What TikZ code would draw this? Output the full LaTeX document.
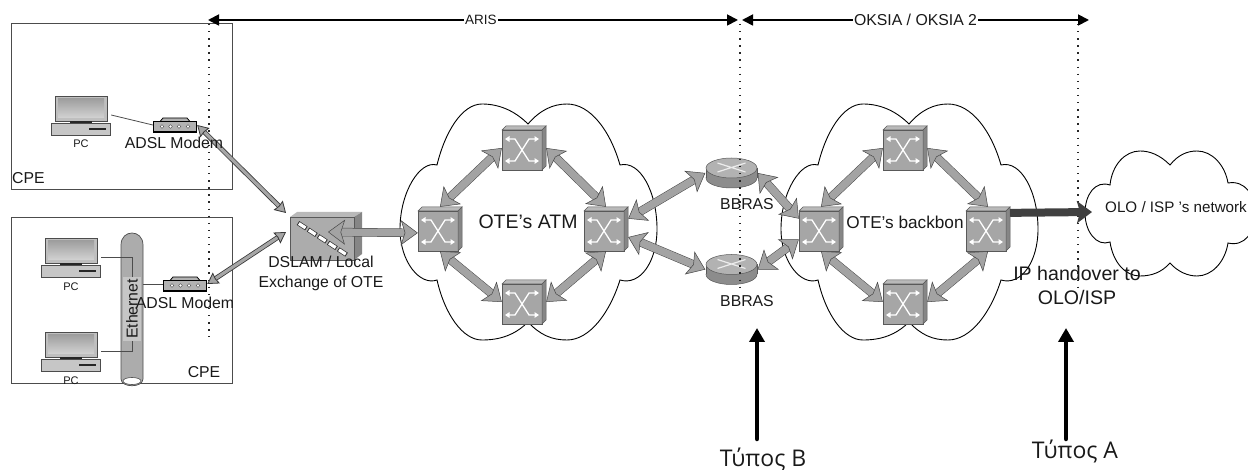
\documentclass[tikz,border=0pt]{standalone}
\usepackage{fontspec}
\setmainfont{Liberation Sans}
\newfontfamily\typefont{Open Sans}
\usetikzlibrary{arrows.meta, positioning, calc}

% Styles
\tikzstyle{cloudline} = [black, line width=0.9pt]
\tikzstyle{cpebox} = [rectangle, draw=gray!60!black, line width=0.9pt, inner sep=0pt]
\tikzstyle{switchbox} = [rectangle, minimum width=44pt, minimum height=44pt, inner sep=0pt]
\tikzstyle{routerbox} = [rectangle, minimum width=52pt, minimum height=31pt, inner sep=0pt]
\tikzstyle{pcbox} = [rectangle, minimum width=60pt, minimum height=40pt, inner sep=0pt]
\tikzstyle{modembox} = [rectangle, minimum width=44pt, minimum height=15pt, inner sep=0pt]
\tikzstyle{label} = [text=black!90, inner sep=0pt, align=center, font=\fontsize{15.8}{20}\selectfont]
\tikzstyle{smalllabel} = [text=black!90, inner sep=0pt, font=\fontsize{11}{13}\selectfont]
\tikzstyle{ringarrow} = [draw=gray!55!black, double=gray!72, line width=0.5pt, double distance=7.5pt, {Stealth[length=17pt,width=25pt,inset=4pt,line width=0.5pt,color=gray!55!black,fill=gray!72]}-{Stealth[length=17pt,width=25pt,inset=4pt,line width=0.5pt,color=gray!55!black,fill=gray!72]}]
\tikzstyle{accessarrow} = [draw=gray!45!black, double=gray!70, line width=0.8pt, double distance=3.2pt, {Stealth[length=11pt,width=13pt,inset=1pt,color=gray!45!black,fill=gray!70]}-{Stealth[length=11pt,width=13pt,inset=1pt,color=gray!45!black,fill=gray!70]}]
\tikzstyle{toparrow} = [black, line width=1.8pt, {Stealth[length=11pt,width=11pt,inset=0pt]}-{Stealth[length=11pt,width=11pt,inset=0pt]}]
\tikzstyle{typearrow} = [black, line width=4.5pt, line cap=round, -{Stealth[length=14pt,width=15pt,inset=0pt]}]
\tikzstyle{dotline} = [black!85, line width=1.4pt, dash pattern=on 1.4pt off 5.7pt]
\tikzstyle{thinline} = [black!70, line width=0.8pt]
\tikzstyle{crossline} = [white, line width=1.3pt, >={Stealth[length=4.5pt,width=5.5pt,inset=0pt]}, <->]

% Double lobed cloud, shifted along x
\newcommand{\bigcloud}[1]{%
  \draw[cloudline, xshift=#1pt] (528,124)
    .. controls (514,110) and (498,104) .. (482,104)
    .. controls (462,104) and (445,132) .. (437,165)
    .. controls (420,160) and (400,192) .. (400,229)
    .. controls (400,262) and (420,286) .. (437,280)
    .. controls (445,315) and (463,340) .. (482,340)
    .. controls (500,340) and (515,335) .. (528,322)
    .. controls (540,335) and (552,340) .. (567,340)
    .. controls (590,340) and (610,312) .. (620,280)
    .. controls (640,286) and (657,262) .. (657,229)
    .. controls (657,192) and (640,160) .. (620,165)
    .. controls (610,130) and (590,104) .. (567,104)
    .. controls (553,104) and (540,110) .. (528,124) -- cycle;
}

% Switch with its three faces and the white cross
\newcommand{\switchnode}[2]{%
  \node (#1) [switchbox] at (#2) {};
  \begin{scope}[shift={(#2)}]
    \filldraw[fill=gray!70, draw=gray!70!black, line width=0.5pt] (-22,-18) rectangle (18,22);
    \filldraw[fill=gray!55, draw=gray!70!black, line width=0.5pt] (-22,-18) -- (-18,-22) -- (22,-22) -- (18,-18) -- cycle;
    \filldraw[fill=gray!95, draw=gray!70!black, line width=0.5pt] (18,-18) -- (22,-22) -- (22,18) -- (18,22) -- cycle;
    \draw[crossline] (-19,-9) -- (-9,-9) -- (5,13) -- (15,13);
    \draw[crossline] (15,-9) -- (5,-9) -- (-9,13) -- (-19,13);
  \end{scope}
}

% Router as a flat cylinder
\newcommand{\routernode}[2]{%
  \node (#1) [routerbox] at (#2) {};
  \begin{scope}[shift={(#2)}]
    \filldraw[fill=gray!90, draw=gray!70!black, line width=0.5pt] (0,5) ellipse [x radius=25.5, y radius=10];
    \fill[gray!90] (-25.5,-5) rectangle (25.5,5);
    \draw[gray!70!black, line width=0.5pt] (-25.5,-5) -- (-25.5,5) (25.5,-5) -- (25.5,5);
    \filldraw[fill=gray!60, draw=gray!70!black, line width=0.5pt] (0,-5) ellipse [x radius=25.5, y radius=10];
    \draw[white!85!gray, line width=1.2pt] (-14,-10) -- (14,-1) (14,-10) -- (-14,-1);
  \end{scope}
}

% PC with monitor, stand and base
\newcommand{\pcnode}[2]{%
  \node (#1) [pcbox] at (#2) {};
  \begin{scope}[shift={(#2)}]
    \filldraw[fill=gray!50, draw=gray!60!black, line width=0.9pt] (-26,-19) rectangle (26,6);
    \shade[top color=gray!75, bottom color=gray!35] (-23,-16) rectangle (23,3);
    \fill[black!85] (-11,6) rectangle (11,8.5);
    \filldraw[fill=gray!45, draw=gray!60!black, line width=0.9pt] (-29.5,8.5) rectangle (29.5,20);
    \fill[black!85] (8,13) rectangle (25,15);
  \end{scope}
}

% ADSL modem
\newcommand{\modemnode}[2]{%
  \node (#1) [modembox] at (#2) {};
  \begin{scope}[shift={(#2)}]
    \filldraw[fill=gray!60, draw=black, line width=0.8pt] (-15,-3.5) -- (-12,-7) -- (12,-7) -- (15,-3.5) -- cycle;
    \filldraw[fill=gray!60, draw=black, line width=1.4pt] (-21.5,-3.5) rectangle (21.5,7);
    \foreach \px in {-13,-4.5,4,13} \filldraw[fill=white, draw=gray!50!black, line width=0.4pt] (\px,1.5) circle (1.8);
  \end{scope}
}

\begin{document}
\begin{tikzpicture}[x=1pt, y=-1pt, >=stealth]
\useasboundingbox (0,0) rectangle (1248,470);

% --- Clouds ---
\bigcloud{0}
\bigcloud{381}
\draw[cloudline] (1170,165)
  .. controls (1160,155) and (1150,151) .. (1140,151)
  .. controls (1125,151) and (1112,165) .. (1110,185)
  .. controls (1095,180) and (1085,195) .. (1085,213)
  .. controls (1085,232) and (1097,247) .. (1110,242)
  .. controls (1113,262) and (1125,276) .. (1140,276)
  .. controls (1152,276) and (1162,272) .. (1170,263)
  .. controls (1178,272) and (1188,276) .. (1197,276)
  .. controls (1212,276) and (1225,262) .. (1228,243)
  .. controls (1245,247) and (1255,232) .. (1255,213)
  .. controls (1255,195) and (1245,180) .. (1228,183)
  .. controls (1225,165) and (1212,151) .. (1197,151)
  .. controls (1187,151) and (1178,155) .. (1170,165) -- cycle;

% --- CPE boxes ---
\node (cpetop) [cpebox, minimum width=221pt, minimum height=166pt] at (121.5,106) {};
\node (cpebottom) [cpebox, minimum width=221pt, minimum height=166pt] at (121.5,300) {};
\node (cpetoplabel) [label, anchor=west] at (12,178) {CPE};
\node (cpebottomlabel) [label] at (204,372) {CPE};

% --- Ethernet bus ---
\node (ethernet) [inner sep=0pt, minimum width=22pt, minimum height=151pt] at (132,308) {};
\filldraw[fill=gray!65, draw=gray!60!black, line width=0.7pt] (121,379) -- (121,245) .. controls (121,229) and (143,229) .. (143,245) -- (143,379) .. controls (143,388) and (121,388) .. (121,379) -- cycle;
\filldraw[fill=white, draw=gray!60!black, line width=0.6pt] (132,381) ellipse [x radius=9, y radius=3.5];

% --- PCs and modems ---
\pcnode{pctop}{81,115}
\pcnode{pcupper}{71,257}
\pcnode{pclower}{71,351}
\modemnode{modemtop}{175,125}
\modemnode{modembottom}{185,284}
\node (pctoplabel) [smalllabel] at (81,144) {PC};
\node (pcupperlabel) [smalllabel] at (71,287) {PC};
\node (pclowerlabel) [smalllabel] at (71,381) {PC};

\draw[thinline] (pctop.east) -- (modemtop.west);
\draw[thinline] (pcupper.east) -| (ethernet.center);
\draw[thinline] (pclower.east) -| (ethernet.center);
\draw[thinline] (ethernet.east |- modembottom.west) -- (modembottom.west);
\node (ethernetlabel) [label, fill=gray!45, rotate=90, inner ysep=3pt, inner xsep=2pt] at (132,309) {Ethernet};

% --- DSLAM ---
\node (dslam) [inner sep=0pt, minimum width=72pt, minimum height=48pt] at (326,236) {};
\fill[gray!65] (290,217) rectangle (354,260);
\fill[gray!55] (290,217) -- (297,212) -- (362,212) -- (354,217) -- cycle;
\fill[gray!95] (354,217) -- (362,212) -- (362,254) -- (354,260) -- cycle;
\draw[gray!70!black, line width=0.5pt] (290,217) rectangle (354,260);
\draw[gray!40!black, line width=4.6pt, dash pattern=on 10pt off 2pt] (298,223) -- (347,255);
\draw[white, line width=3.2pt, dash pattern=on 8pt off 4pt, dash phase=-1pt] (298,223) -- (347,255);
\coordinate (dslamport) at (328,232);
\coordinate (dslamtop) at (286,213);
\coordinate (dslambottom) at (286,232);
\node (dslamlabel) [label] at (321,273) {DSLAM / Local\\Exchange of OTE};

% --- Switches and routers ---
\switchnode{atmleft}{440,229}
\switchnode{atmtop}{524,148}
\switchnode{atmright}{606,229}
\switchnode{atmbottom}{524,302}
\switchnode{coreleft}{821,229}
\switchnode{coretop}{905,148}
\switchnode{coreright}{988,229}
\switchnode{corebottom}{905,302}
\routernode{brastop}{731.5,173}
\routernode{brasbottom}{731.5,269.5}

% --- Dotted borders ---
\coordinate (dotaris) at (209,24);
\coordinate (dotarisend) at (209,337);
\coordinate (dotoksia) at (740,24);
\coordinate (dotoksiaend) at (740,288);
\coordinate (dotolo) at (1078,24);
\coordinate (dotoloend) at (1078,290);
\draw[dotline] (dotaris) -- (dotarisend);
\draw[dotline] (dotoksia) -- (dotoksiaend);
\draw[dotline] (dotolo) -- (dotoloend);

% --- Arrows ---
\draw[ringarrow] (atmleft.north) -- (atmtop.west);
\draw[ringarrow] (atmtop.east) -- (atmright.north);
\draw[ringarrow] (atmleft.south) -- (atmbottom.west);
\draw[ringarrow] (atmbottom.east) -- (atmright.south);
\draw[ringarrow] (coreleft.north) -- (coretop.west);
\draw[ringarrow] (coretop.east) -- (coreright.north);
\draw[ringarrow] (coreleft.south) -- (corebottom.west);
\draw[ringarrow] (corebottom.east) -- (coreright.south);
\draw[ringarrow] (atmright.25) -- (brastop.west);
\draw[ringarrow] (atmright.-20) -- (brasbottom.west);
\draw[ringarrow] (brastop.east) -- (coreleft.155);
\draw[ringarrow] (brasbottom.east) -- (coreleft.205);
\draw[ringarrow] (dslamport) -- (atmleft.190);
\draw[accessarrow] (modemtop.east) -- (dslamtop);
\draw[accessarrow] (modembottom.east) -- (dslambottom);

% Handover to the other network
\coordinate (oloport) at (1092,212);
\draw[line width=8pt, gray!50!black, -{Stealth[length=15pt,width=22pt,inset=3pt]}] (coreright.36) -- (oloport);

% --- Top ranges ---
\coordinate (arisstart) at (208,20);
\coordinate (arisend) at (738,20);
\coordinate (oksiastart) at (742,20);
\coordinate (oksiaend) at (1089,20);
\draw[toparrow] (arisstart) -- node[pos=0.515, fill=white, inner xsep=1.5pt, inner ysep=1pt, text=black!90, font=\fontsize{13.5}{16}\selectfont] (arislabel) {ARIS} (arisend);
\draw[toparrow] (oksiastart) -- node[fill=white, inner xsep=1.5pt, inner ysep=1pt, text=black!90, font=\fontsize{15.8}{18}\selectfont] (oksialabel) {OKSIA / OKSIA 2} (oksiaend);

% --- Labels ---
\node (modemtoplabel) [label] at (174,143) {ADSL Modem};
\node (modembottomlabel) [label] at (185,303) {ADSL Modem};
\node (atmlabel) [label, font=\fontsize{19.5}{23}\selectfont] at (528,222) {OTE's ATM};
\node (corelabel) [label, font=\fontsize{17.2}{21}\selectfont] at (905,222) {OTE's backbon};
\node (brastoplabel) [label] at (747,204) {BBRAS};
\node (brasbottomlabel) [label] at (747,301) {BBRAS};
\node (handoverlabel) [label, font=\fontsize{19.6}{24}\selectfont] at (1077,285) {IP handover to\\OLO/ISP};
\node (ololabel) [label, anchor=west, font=\fontsize{15.2}{18}\selectfont] at (1105,207) {OLO / ISP 's network};

% --- Types ---
\node (typeb) [text=black!90, inner sep=0pt, font=\typefont\fontsize{23}{27}\selectfont] at (763,459) {Τύπος Β};
\node (typea) [text=black!90, inner sep=0pt, font=\typefont\fontsize{23}{27}\selectfont] at (1075,451) {Τύπος Α};
\coordinate (typebstart) at (757,439);
\coordinate (typebend) at (757,328);
\coordinate (typeastart) at (1066,439);
\coordinate (typeaend) at (1066,328);
\draw[typearrow] (typebstart) -- (typebend);
\draw[typearrow] (typeastart) -- (typeaend);

\end{tikzpicture}
\end{document}
